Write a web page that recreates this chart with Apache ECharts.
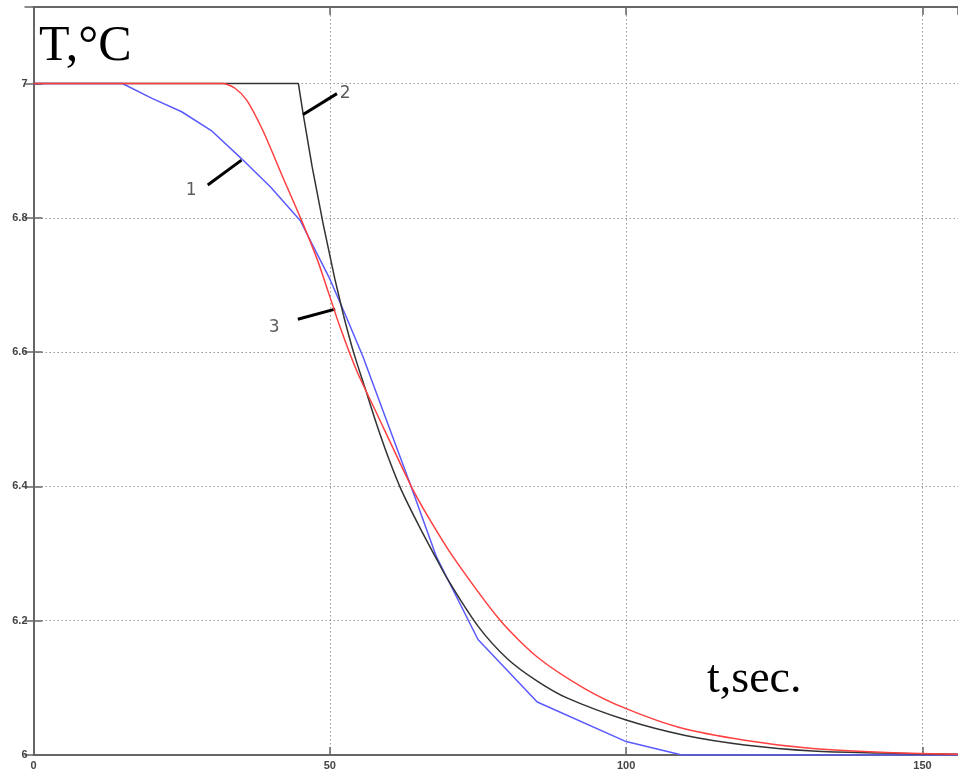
<!DOCTYPE html>
<html><head><meta charset="utf-8">
<script src="https://cdn.jsdelivr.net/npm/echarts@6/dist/echarts.min.js"></script>
<style>html,body{margin:0;padding:0;background:#fff;}#c{width:958px;height:778px;}</style>
</head><body><div id="c"></div>
<script>
// Curve 1 (blue)
const curve1T = [0, 15, 20, 25, 30, 35, 40, 45, 50, 52.8, 55.6, 59, 63.5, 68, 75, 85, 100, 109.4, 156];
const curve1V = [7.0, 7.0, 6.978, 6.958, 6.930, 6.889, 6.846, 6.796, 6.709, 6.652, 6.593, 6.512, 6.405, 6.295, 6.172, 6.079, 6.020, 6.0, 6.0];
// Curve 2 (black): steep initial part
const curve2aT = [0, 44.7, 45.5, 47, 48.9, 50.9, 52.3];
const curve2aV = [7.0, 7.0, 6.955, 6.877, 6.790, 6.707, 6.655];
// Curve 2 (black): decaying tail
const curve2bT = [52.3, 54, 56, 58, 60, 62, 65, 68, 70, 75, 80, 85, 90, 100, 110, 120, 131.5, 143, 156];
const curve2bV = [6.655, 6.600, 6.545, 6.490, 6.440, 6.396, 6.342, 6.292, 6.260, 6.192, 6.143, 6.110, 6.085, 6.052, 6.029, 6.015, 6.006, 6.003, 6.001];
// Curve 3 (red)
const curve3T = [0, 32, 34, 36, 38.7, 42, 45, 47.8, 48.9, 51.7, 54.5, 57.9, 63.8, 66.9, 70.8, 78.7, 85, 93, 100, 109, 120, 131, 143, 156];
const curve3V = [7.0, 7.0, 6.993, 6.975, 6.930, 6.862, 6.801, 6.740, 6.712, 6.638, 6.573, 6.509, 6.399, 6.350, 6.295, 6.201, 6.146, 6.099, 6.069, 6.041, 6.022, 6.010, 6.004, 6.001];
// Annotations: leader lines (start/end in data units) and labels
const leaderStart = [[29.4, 6.849], [45.5, 6.954], [44.6, 6.649]];
const leaderEnd   = [[35.1, 6.886], [51.2, 6.985], [50.9, 6.664]];
const annoLabels  = ['1', '2', '3'];
const annoPos     = [[26.6, 6.841], [52.6, 6.985], [40.6, 6.636]];
// Axis setup
const xMin = 0, xMax = 156, xStep = 50;
const yMin = 6, yMax = 7.114, yStep = 0.2;
const yTitle = 'T,°C';
const xTitle = 't,sec.';

const zip = (a, b) => a.map((v, i) => [v, b[i]]);
const chart = echarts.init(document.getElementById('c'), null, {renderer: 'canvas'});
const axisCol = '#666';
const labelStyle = {color: '#444', fontSize: 11, fontWeight: 'bold', fontFamily: 'Liberation Sans'};
const gridLine = {show: true, lineStyle: {color: '#999', width: 1, type: [1.5, 2.5]}};
const blackLine = {color: '#333', width: 1.5};
chart.setOption({
  animation: false,
  grid: {left: 33.5, right: 0, top: 7, bottom: 23, containLabel: false},
  xAxis: [{
    type: 'value', min: xMin, max: xMax, interval: xStep, position: 'bottom',
    axisLine: {show: true, onZero: false, lineStyle: {color: axisCol, width: 2}},
    axisTick: {show: true, inside: true, length: 8, lineStyle: {color: axisCol, width: 1.5}},
    axisLabel: Object.assign({margin: 5, showMaxLabel: false}, labelStyle),
    splitLine: gridLine
  }, {
    type: 'value', min: xMin, max: xMax, interval: xStep, position: 'top',
    axisLine: {show: true, onZero: false, lineStyle: {color: axisCol, width: 2}},
    axisTick: {show: true, inside: true, length: 8, lineStyle: {color: axisCol, width: 1.5}},
    axisLabel: {show: false}, splitLine: {show: false}
  }],
  yAxis: [{
    type: 'value', min: yMin, max: yMax, interval: yStep, position: 'left',
    axisLine: {show: true, onZero: false, lineStyle: {color: axisCol, width: 2}},
    axisTick: {show: true, inside: true, length: 9, lineStyle: {color: axisCol, width: 1.5}},
    axisLabel: Object.assign({margin: 6, showMaxLabel: false, formatter: v => String(Math.round(v * 10) / 10)}, labelStyle),
    splitLine: gridLine
  }, {
    type: 'value', min: yMin, max: yMax, interval: yStep, position: 'right',
    axisLine: {show: false},
    axisTick: {show: true, inside: true, length: 9, lineStyle: {color: axisCol, width: 1.5}},
    axisLabel: {show: false}, splitLine: {show: false}
  }],
  series: [
    {type: 'line', data: zip(curve1T, curve1V), showSymbol: false, smooth: false, lineStyle: {color: '#5a5aff', width: 1.5}, z: 3},
    {type: 'line', data: zip(curve2aT, curve2aV), showSymbol: false, smooth: false, lineStyle: blackLine, z: 4},
    {type: 'line', data: zip(curve2bT, curve2bV), showSymbol: false, smooth: 0.3, lineStyle: blackLine, z: 4},
    {type: 'line', data: zip(curve3T, curve3V), showSymbol: false, smooth: 0.25, lineStyle: {color: '#ff4040', width: 1.5}, z: 5},
    {type: 'line', data: [], z: 6,
      markLine: {silent: true, symbol: 'none', label: {show: false},
        lineStyle: {color: '#000', width: 3, type: 'solid'},
        data: leaderStart.map((s, i) => [{coord: s}, {coord: leaderEnd[i]}])}},
    {type: 'scatter', symbolSize: 0, z: 7,
      data: annoPos.map((p, i) => ({value: p, name: annoLabels[i]})),
      label: {show: true, position: 'inside', formatter: p => p.name, color: '#333', fontSize: 17, fontFamily: 'DejaVu Sans'}}
  ],
  graphic: [
    {type: 'text', left: 39, top: 22, style: {text: yTitle, font: '50px "Liberation Serif"', fill: '#000'}},
    {type: 'text', left: 707, top: 657, style: {text: xTitle, font: '46px "Liberation Serif"', fill: '#000'}}
  ]
});
</script></body></html>
